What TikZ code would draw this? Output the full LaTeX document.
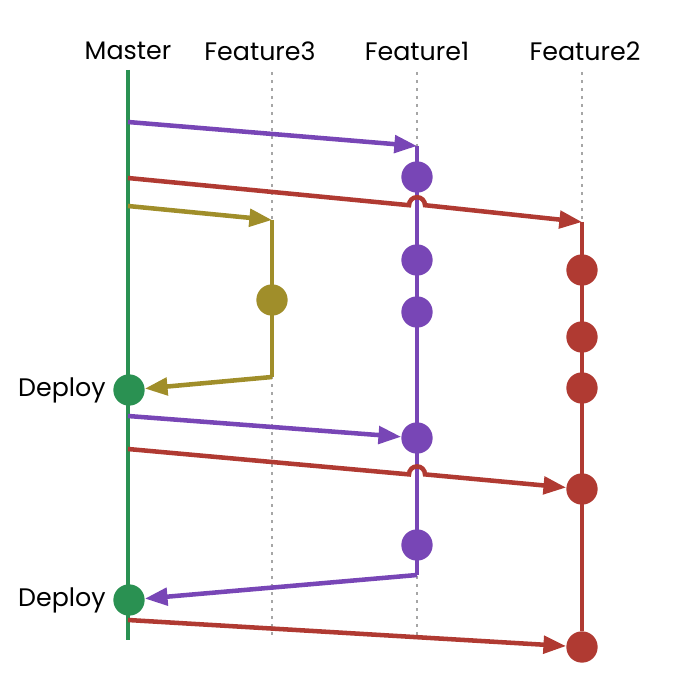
\documentclass[tikz,border=0pt]{standalone}
\usepackage{fontspec}
\setmainfont{Poppins}
\usetikzlibrary{arrows.meta,calc}
\definecolor{masterGreen}{HTML}{2A9152}
\definecolor{featPurple}{HTML}{7846B6}
\definecolor{featRed}{HTML}{B03A32}
\definecolor{featOlive}{HTML}{A08E2A}
\tikzset{
  branch/.style={line width=3.4pt},
  tipped/.style={branch,-{Triangle[length=17pt,width=13pt]}},
  commit/.style={circle,fill,inner sep=0pt,minimum size=23.5pt},
  guide/.style={gray!70,dash pattern=on 2pt off 4pt,line width=1.2pt},
  title/.style={font=\fontsize{19}{22}\selectfont},
}
\begin{document}
\begin{tikzpicture}[x=0.75pt,y=-0.75pt]
\useasboundingbox (0,0) rectangle (697,681);
% column titles
\node[title] (tM) at (128,51) {Master};
\node[title] (t3) at (260,51) {Feature3};
\node[title] (t1) at (417,51) {Feature1};
\node[title] (t2) at (585,51) {Feature2};
% guide lines
\draw[guide] (272,72) -- (272,635);
\draw[guide] (417,72) -- (417,635);
\draw[guide] (582,72) -- (582,222);
% master
\draw[branch,masterGreen] (128,70) -- (128,640);
\node[commit,masterGreen] (d1) at (129,390) {};
\node[commit,masterGreen] (d2) at (129,600) {};
\node[title,left=2pt] at (d1.west) {Deploy};
\node[title,left=2pt] at (d2.west) {Deploy};
% Feature1
\coordinate (p0) at (417,146);
\coordinate (pEnd) at (417,575);
\node[commit,featPurple] (p1) at (417,177) {};
\node[commit,featPurple] (p2) at (417,260) {};
\node[commit,featPurple] (p3) at (417,312) {};
\node[commit,featPurple] (p4) at (417,438) {};
\node[commit,featPurple] (p5) at (417,545) {};
\draw[branch,featPurple] (p0) -- (pEnd);
\draw[tipped,featPurple] (128,122) -- (p0);
\draw[tipped,featPurple] (128,416) -- (p4);
\draw[tipped,featPurple] (pEnd) -- (d2);
% Feature3
\coordinate (o0) at (272,220);
\coordinate (oEnd) at (272,377);
\node[commit,featOlive] (o1) at (272,300) {};
\draw[branch,featOlive] (o0) -- (oEnd);
\draw[tipped,featOlive] (128,206) -- (o0);
\draw[tipped,featOlive] (oEnd) -- (d1);
% Feature2
\coordinate (r0) at (582,222);
\node[commit,featRed] (r1) at (582,270) {};
\node[commit,featRed] (r2) at (582,337) {};
\node[commit,featRed] (r3) at (582,388) {};
\node[commit,featRed] (r4) at (582,489) {};
\node[commit,featRed] (r5) at (582,647) {};
\draw[branch,featRed] (r0) -- (r5);
\draw[tipped,featRed] (128,178) -- (409,205.2)
  arc[start angle=180,end angle=360,radius=8] -- (r0);
\draw[tipped,featRed] (128,449) -- (409,474.4)
  arc[start angle=180,end angle=360,radius=8] -- (r4);
\draw[tipped,featRed] (128,620) -- (r5);
\end{tikzpicture}
\end{document}
